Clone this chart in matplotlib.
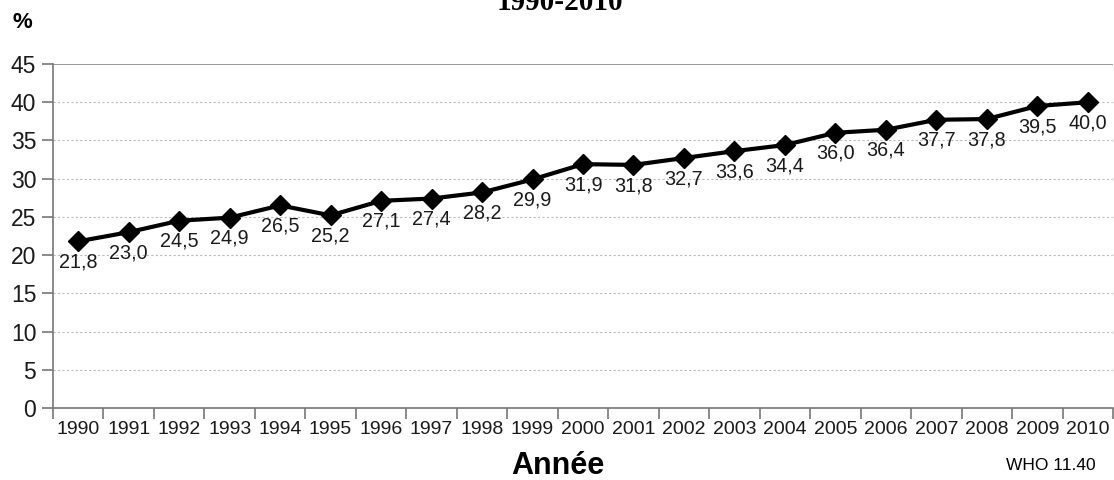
import matplotlib
matplotlib.use("Agg")
import matplotlib.pyplot as plt
from matplotlib.ticker import FixedLocator, NullFormatter

years = [str(y) for y in range(1990, 2011)]
values = [21.8, 23.0, 24.5, 24.9, 26.5, 25.2, 27.1, 27.4, 28.2, 29.9, 31.9,
          31.8, 32.7, 33.6, 34.4, 36.0, 36.4, 37.7, 37.8, 39.5, 40.0]
yticks = [0, 5, 10, 15, 20, 25, 30, 35, 40, 45]

plt.rcParams['font.family'] = ['Liberation Sans', 'DejaVu Sans']

fig = plt.figure(figsize=(11.14, 4.8), dpi=100)
ax = fig.add_axes([53/1114, 1-408/480, (1113-53)/1114, (408-64)/480])

x = list(range(len(years)))
ax.plot(x, values, color='black', lw=3, marker='D', ms=10, zorder=3)
for xi, v in zip(x, values):
    ax.annotate(f"{v:.1f}".replace('.', ','), (xi, v), xytext=(0, -8),
                textcoords='offset points', ha='center', va='top',
                fontsize=14.2, color='#1a1a1a')

ax.set_xlim(-0.5, len(years) - 0.5)
ax.set_ylim(0, 45)
ax.set_yticks(yticks)
ax.set_yticklabels([str(t) for t in yticks], fontsize=16.5)
ax.set_xticks(x)
ax.set_xticklabels(years, fontsize=14)
ax.xaxis.set_minor_locator(FixedLocator([i - 0.5 for i in range(len(years) + 1)]))
ax.xaxis.set_minor_formatter(NullFormatter())
ax.tick_params(axis='x', which='major', length=0, pad=9, colors='#1a1a1a')
ax.tick_params(axis='x', which='minor', length=8, color='#777777', width=1.2)
ax.tick_params(axis='y', length=8, color='#777777', width=1.2, pad=4, labelcolor='#1a1a1a')

for t in yticks[1:-1]:
    ax.axhline(t, color='#bbbbbb', lw=0.8, ls=(0, (2, 2)), zorder=1)
ax.axhline(45, color='#888888', lw=1.2, zorder=1)

for s in ['left', 'bottom']:
    ax.spines[s].set_color('#777777')
    ax.spines[s].set_linewidth(1.2)
ax.spines['top'].set_visible(False)
ax.spines['right'].set_visible(False)

fig.text(22/1114, 1-22/480, '%', fontsize=16, fontweight='bold', ha='center', va='center')
fig.text(558/1114, 1-466/480, 'Année', fontsize=22, fontweight='bold', ha='center', va='center')
fig.text(1051/1114, 1-466/480, 'WHO 11.40', fontsize=12.5, ha='center', va='center')
fig.text(560/1114, 1-2/480, '1990-2010', fontsize=21, fontweight='bold',
         family=['Liberation Serif', 'DejaVu Serif'], ha='center', va='center')

fig.savefig('out.png', dpi=100, facecolor='white')
